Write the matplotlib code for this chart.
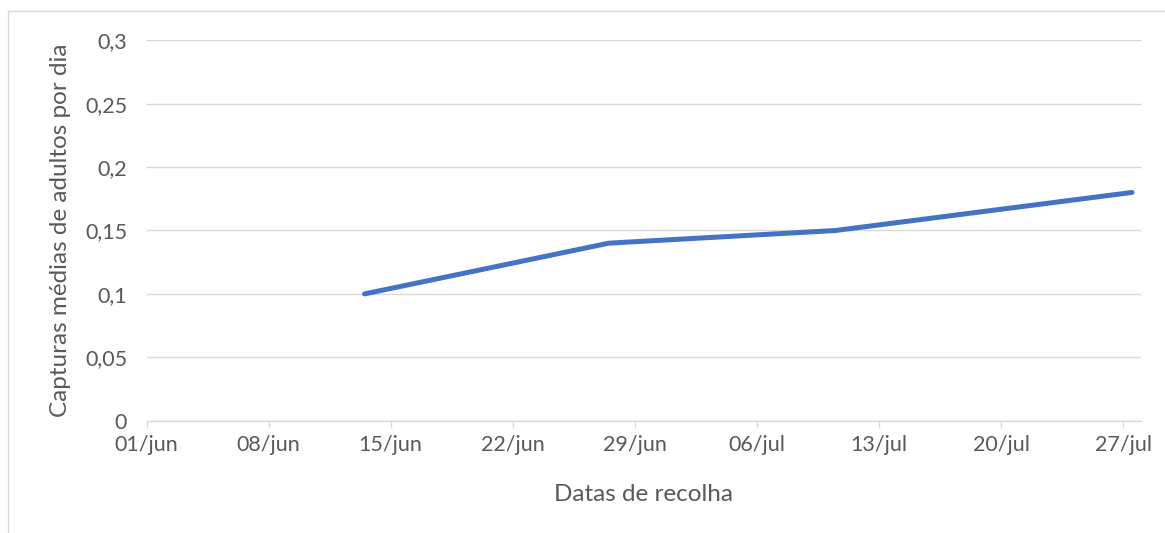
import numpy as np
import matplotlib
matplotlib.use("Agg")
import matplotlib.pyplot as plt
from matplotlib.patches import Rectangle
from datetime import datetime, timedelta

# Dados
datas = ["2023-06-13", "2023-06-27", "2023-07-10", "2023-07-27"]
capturas = [0.10, 0.14, 0.15, 0.18]
ticks_datas = ["2023-06-01", "2023-06-08", "2023-06-15", "2023-06-22", "2023-06-29",
               "2023-07-06", "2023-07-13", "2023-07-20", "2023-07-27"]
ticks_y = [0, 0.05, 0.1, 0.15, 0.2, 0.25, 0.3]
ticks_y_txt = ["0", "0,05", "0,1", "0,15", "0,2", "0,25", "0,3"]

cinza = "#595959"
grelha = "#d9d9d9"
azul = "#4472C4"

plt.rcParams["font.family"] = ["Lato", "DejaVu Sans"]

fig = plt.figure(figsize=(11.65, 5.33), dpi=100)
ax = fig.add_axes([0.1258, 0.2107, 0.9791 - 0.1258, 0.9244 - 0.2107])

# moldura do gráfico (Excel)
fig.patches.append(Rectangle((8 / 1165, -0.1), 1.2, 1 - 11 / 533 + 0.1,
                             transform=fig.transFigure, fill=False,
                             edgecolor=grelha, lw=1))

# eixo de datas: cada dia ocupa uma célula, ponto no centro
meio_dia = timedelta(hours=12)
x = [datetime.fromisoformat(d) + meio_dia for d in datas]
ax.plot(x, capturas, color=azul, lw=3.6, solid_capstyle="round",
        solid_joinstyle="round", zorder=3)

xt = [datetime.fromisoformat(d) for d in ticks_datas]
ax.set_xlim(xt[0], xt[-1] + timedelta(days=1))
ax.set_xticks(xt)
ax.set_xticklabels([d.strftime("%d/") + ("jun" if d.month == 6 else "jul") for d in xt])

ax.set_ylim(0, 0.3)
ax.set_yticks(ticks_y)
ax.set_yticklabels(ticks_y_txt)
ax.grid(axis="y", color=grelha, lw=1)
ax.set_axisbelow(True)

for s in ["top", "right", "left"]:
    ax.spines[s].set_visible(False)
ax.spines["bottom"].set_color(grelha)
ax.spines["bottom"].set_linewidth(1)

ax.tick_params(axis="y", length=0, pad=14, labelsize=15.5, labelcolor=cinza)
ax.tick_params(axis="x", length=5, width=1, color=grelha, pad=5,
               labelsize=15.5, labelcolor=cinza)

ax.set_xlabel("Datas de recolha", fontsize=17.5, color=cinza, labelpad=21)
ax.set_ylabel("Capturas médias de adultos por dia", fontsize=17.5, color=cinza,
              labelpad=10)

fig.savefig("out.png", dpi=100)
